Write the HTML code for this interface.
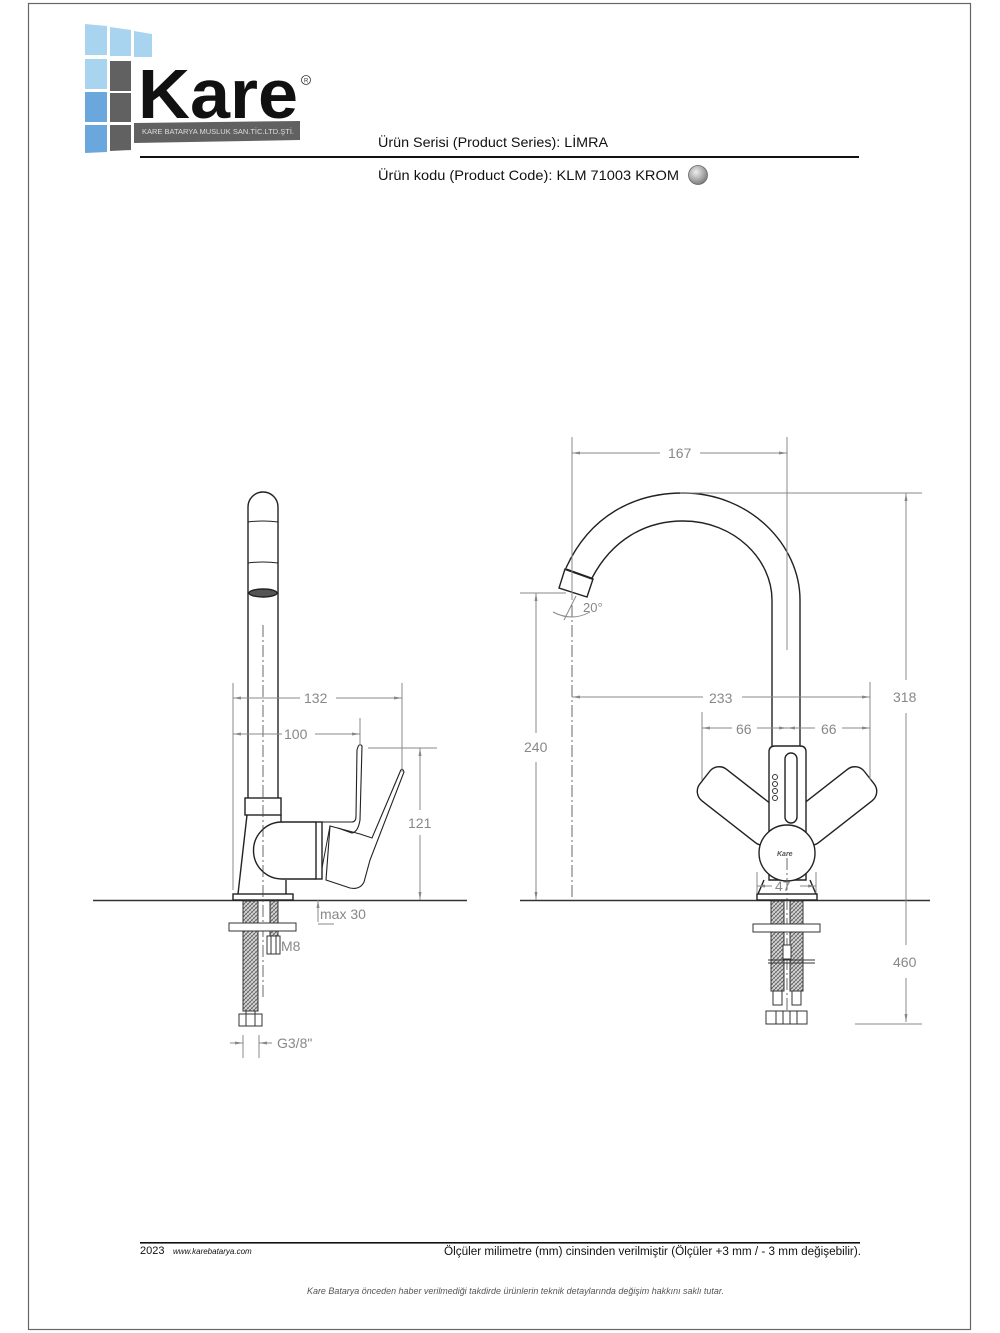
<!DOCTYPE html>
<html><head><meta charset="utf-8"><style>
body{margin:0;background:#fff;}
svg{display:block;font-family:"Liberation Sans",Arial,sans-serif;}
</style></head><body>
<svg width="1000" height="1333" viewBox="0 0 1000 1333" xmlns="http://www.w3.org/2000/svg">
<defs>
<pattern id="hatch" width="4" height="4" patternUnits="userSpaceOnUse">
<rect width="4" height="4" fill="#ddd"/><path d="M0 4L4 0M-1 1L1 -1M3 5L5 3" stroke="#555" stroke-width="0.8"/><path d="M0 0L4 4" stroke="#777" stroke-width="0.6"/>
</pattern>
<radialGradient id="chrome" cx="0.4" cy="0.35" r="0.7"><stop offset="0" stop-color="#eee"/><stop offset="1" stop-color="#777"/></radialGradient>
<marker id="ar" markerWidth="8" markerHeight="6" refX="8" refY="3" orient="auto-start-reverse" markerUnits="userSpaceOnUse"><path d="M0 1.5L8 3L0 4.5" fill="#888"/></marker>
</defs>
<rect x="28.5" y="3.5" width="942" height="1326" fill="none" stroke="#666" stroke-width="1.2"/>

<!-- logo -->
<g>
<polygon points="85,24 107,26 107,55 85,55" fill="#a9d4ef"/>
<polygon points="110,27 131,30 131,56 110,56" fill="#a9d4ef"/>
<polygon points="134,31 152,34 152,57 134,57" fill="#a9d4ef"/>
<rect x="85" y="59" width="22" height="30" fill="#a9d4ef"/>
<rect x="110" y="61" width="21" height="30" fill="#616161"/>
<rect x="85" y="92" width="22" height="30" fill="#6aa7dc"/>
<rect x="110" y="93" width="21" height="29" fill="#616161"/>
<polygon points="85,125 107,125 107,152 85,153" fill="#6aa7dc"/>
<polygon points="110,125 131,125 131,150 110,151" fill="#616161"/>
<polygon points="134,123 300,121 300,140 134,143" fill="#616161"/>
<text x="142" y="134" font-size="7" fill="#ddd" textLength="152" lengthAdjust="spacingAndGlyphs">KARE BATARYA MUSLUK SAN.TİC.LTD.ŞTİ.</text>
<text x="138" y="118" font-size="70" font-weight="bold" fill="#111" textLength="160" lengthAdjust="spacingAndGlyphs">Kare</text>
<circle cx="306" cy="80" r="4.5" fill="none" stroke="#333" stroke-width="0.8"/>
<text x="304" y="82.5" font-size="6" fill="#333">R</text>
</g>
<text x="378" y="147" font-size="14" fill="#111" textLength="230" lengthAdjust="spacingAndGlyphs">Ürün Serisi (Product Series): LİMRA</text>
<rect x="140" y="156" width="719" height="2" fill="#111"/>
<text x="378" y="180" font-size="14" fill="#111" textLength="301" lengthAdjust="spacingAndGlyphs">Ürün kodu (Product Code): KLM 71003  KROM</text>
<circle cx="698" cy="175" r="9.5" fill="url(#chrome)" stroke="#666" stroke-width="0.8"/>

<!-- LEFT DRAWING -->
<g fill="none" stroke="#222" stroke-width="1.4">
<line x1="93" y1="900.5" x2="467" y2="900.5" stroke="#333" stroke-width="1.6"/>
<path d="M248 798 V507 A15 15 0 0 1 278 507 V798"/>
<path d="M248 522 Q263 520 278 522" stroke-width="1"/>
<path d="M248 563 Q263 561 278 563" stroke-width="1"/>
<ellipse cx="263" cy="593" rx="14" ry="4" fill="#555"/>
<rect x="245" y="798" width="36" height="17"/>
<path d="M247 815 L238 894"/>
<path d="M281 815 L281 822"/>
<path d="M286 880 L286 894"/>
<path d="M316 822 H282 A28 28 0 0 0 282 879 H316"/>
<rect x="316" y="822" width="6" height="57"/>
<path d="M322 822 L352 822 Q356 822 356 816 L357 750 Q359 742 362 746 L360 820 Q358 832 352 833 L338 828" stroke-width="1.1"/>
<path d="M330 826 L360 834 L372 838 L400 772 Q402 766 404 772 L370 860 L364 882 Q360 890 350 888 L326 880 Z" stroke-width="1.1"/>
<path d="M330 826 L322 868" stroke-width="1"/>
<rect x="233" y="894" width="60" height="6"/>
</g>
<line x1="263" y1="625" x2="263" y2="1000" stroke="#444" stroke-width="0.8" stroke-dasharray="12,3,2,3"/>
<!-- under sink left -->
<rect x="243" y="901" width="15" height="110" fill="url(#hatch)" stroke="#333" stroke-width="1"/>
<rect x="270" y="901" width="8" height="36" fill="url(#hatch)" stroke="#333" stroke-width="1"/>
<rect x="229" y="923" width="67" height="8" fill="#fff" stroke="#333" stroke-width="1"/>
<rect x="267" y="936" width="13" height="18" fill="#fff" stroke="#333" stroke-width="1"/>
<line x1="271" y1="936" x2="271" y2="954" stroke="#333"/><line x1="276" y1="936" x2="276" y2="954" stroke="#333"/>
<rect x="246" y="1011" width="9" height="7" fill="#fff" stroke="#333"/>
<rect x="239" y="1014" width="23" height="12" fill="#fff" stroke="#333"/>
<line x1="246" y1="1014" x2="246" y2="1026" stroke="#333"/><line x1="255" y1="1014" x2="255" y2="1026" stroke="#333"/>
<!-- left dims -->
<g stroke="#888" stroke-width="1" fill="none">
<line x1="233" y1="683" x2="233" y2="890"/>
<line x1="402" y1="683" x2="402" y2="772"/>
<line x1="360" y1="718" x2="360" y2="745"/>
<line x1="233" y1="698" x2="300" y2="698" marker-start="url(#ar)"/>
<line x1="336" y1="698" x2="402" y2="698" marker-end="url(#ar)"/>
<line x1="233" y1="734" x2="282" y2="734" marker-start="url(#ar)"/>
<line x1="315" y1="734" x2="360" y2="734" marker-end="url(#ar)"/>
<line x1="368" y1="748" x2="437" y2="748"/>
<line x1="420" y1="748" x2="420" y2="810" marker-start="url(#ar)"/>
<line x1="420" y1="835" x2="420" y2="900" marker-end="url(#ar)"/>
<line x1="318" y1="900" x2="318" y2="922" marker-start="url(#ar)"/>
<line x1="318" y1="924" x2="334" y2="924"/>
<line x1="243" y1="1035" x2="243" y2="1058"/>
<line x1="259" y1="1035" x2="259" y2="1058"/>
<line x1="230" y1="1043" x2="243" y2="1043" marker-end="url(#ar)"/>
<line x1="259" y1="1043" x2="272" y2="1043" marker-start="url(#ar)"/>
</g>
<g fill="#888" font-size="14">
<text x="304" y="703">132</text>
<text x="284" y="739">100</text>
<text x="408" y="828">121</text>
<text x="320" y="919">max 30</text>
<text x="281" y="951">M8</text>
<text x="277" y="1048">G3/8"</text>
</g>

<!-- RIGHT DRAWING -->
<g fill="none" stroke="#222" stroke-width="1.4">
<line x1="520" y1="900.5" x2="930" y2="900.5" stroke="#333" stroke-width="1.6"/>
<path d="M566 568 C590 515, 635 493, 683 493 C750 493, 800 545, 800 600 V748"/>
<path d="M592 578 C612 540, 645 521, 683 521 C735 521, 772 560, 772 600 V748"/>
<path d="M565 569 L593 579 L587 597 L559 588 Z" fill="#fff"/>
<line x1="565" y1="569" x2="593" y2="579" stroke-width="2"/>
<!-- handles -->
<rect x="695" y="786" width="92" height="40" rx="12" transform="rotate(38 741 806)" fill="#fff"/>
<rect x="787" y="786" width="92" height="40" rx="12" transform="rotate(-38 833 806)" fill="#fff"/>
<path d="M769 880 V752 Q769 746 775 746 H800 Q806 746 806 752 V880 Z" fill="#fff"/>
<rect x="785" y="753" width="12" height="70" rx="6"/>
<circle cx="787" cy="853" r="28" fill="#fff"/>
<rect x="757" y="894" width="60" height="6"/>
<line x1="764" y1="880" x2="758" y2="894"/><line x1="810" y1="880" x2="816" y2="894"/>
</g>
<g fill="none" stroke="#333" stroke-width="1">
<circle cx="775" cy="777" r="2.5"/><circle cx="775" cy="784" r="2.5"/><circle cx="775" cy="791" r="2.5"/><circle cx="775" cy="798" r="2.5"/>
</g>
<text x="777" y="856" font-size="7" font-style="italic" font-weight="bold" fill="#555">Kare</text>
<line x1="572" y1="605" x2="572" y2="900" stroke="#444" stroke-width="0.8" stroke-dasharray="12,3,2,3"/>
<line x1="787" y1="858" x2="787" y2="1015" stroke="#444" stroke-width="0.8" stroke-dasharray="12,3,2,3"/>
<path d="M553 612 Q572 622 590 612" fill="none" stroke="#888"/>
<line x1="564" y1="620" x2="576" y2="596" stroke="#888"/>
<text x="583" y="612" font-size="13" fill="#888">20°</text>
<!-- under sink right -->
<rect x="771" y="901" width="13" height="90" fill="url(#hatch)" stroke="#333"/>
<rect x="790" y="901" width="13" height="90" fill="url(#hatch)" stroke="#333"/>
<rect x="753" y="924" width="67" height="8" fill="#fff" stroke="#333"/>
<rect x="783" y="945" width="8" height="14" fill="#fff" stroke="#333"/>
<line x1="768" y1="960" x2="815" y2="960" stroke="#333"/><line x1="768" y1="963" x2="815" y2="963" stroke="#333"/>
<rect x="773" y="991" width="9" height="14" fill="#fff" stroke="#333"/>
<rect x="792" y="991" width="9" height="14" fill="#fff" stroke="#333"/>
<rect x="766" y="1011" width="41" height="13" fill="#fff" stroke="#333"/>
<line x1="776" y1="1011" x2="776" y2="1024" stroke="#333"/><line x1="783" y1="1011" x2="783" y2="1024" stroke="#333"/><line x1="790" y1="1011" x2="790" y2="1024" stroke="#333"/><line x1="797" y1="1011" x2="797" y2="1024" stroke="#333"/>
<!-- right dims -->
<g stroke="#888" stroke-width="1" fill="none">
<line x1="572" y1="437" x2="572" y2="600"/>
<line x1="787" y1="437" x2="787" y2="650"/>
<line x1="572" y1="453" x2="660" y2="453" marker-start="url(#ar)"/>
<line x1="700" y1="453" x2="787" y2="453" marker-end="url(#ar)"/>
<line x1="680" y1="493" x2="922" y2="493"/>
<line x1="906" y1="493" x2="906" y2="680" marker-start="url(#ar)"/>
<line x1="906" y1="713" x2="906" y2="945"/>
<line x1="906" y1="978" x2="906" y2="1022" marker-end="url(#ar)"/>
<line x1="855" y1="1024" x2="922" y2="1024"/>
<line x1="520" y1="593" x2="566" y2="593"/>
<line x1="536" y1="593" x2="536" y2="733" marker-start="url(#ar)"/>
<line x1="536" y1="762" x2="536" y2="900" marker-end="url(#ar)"/>
<line x1="572" y1="697" x2="703" y2="697" marker-start="url(#ar)"/>
<line x1="742" y1="697" x2="870" y2="697" marker-end="url(#ar)"/>
<line x1="870" y1="682" x2="870" y2="780"/>
<line x1="702" y1="712" x2="702" y2="780"/>
<line x1="702" y1="728" x2="732" y2="728" marker-start="url(#ar)"/>
<line x1="757" y1="728" x2="787" y2="728" marker-end="url(#ar)"/>
<line x1="787" y1="728" x2="815" y2="728" marker-start="url(#ar)"/>
<line x1="842" y1="728" x2="870" y2="728" marker-end="url(#ar)"/>
<line x1="757" y1="872" x2="757" y2="893"/><line x1="816" y1="872" x2="816" y2="893"/>
<line x1="757" y1="886" x2="772" y2="886" marker-start="url(#ar)"/>
<line x1="800" y1="886" x2="816" y2="886" marker-end="url(#ar)"/>
</g>
<g fill="#888" font-size="14">
<text x="668" y="458">167</text>
<text x="893" y="702">318</text>
<text x="893" y="967">460</text>
<text x="524" y="752">240</text>
<text x="709" y="703">233</text>
<text x="736" y="734">66</text>
<text x="821" y="734">66</text>
<text x="775" y="891">47</text>
</g>

<!-- footer -->
<rect x="140" y="1242" width="720" height="1.6" fill="#111"/>
<text x="140" y="1254" font-size="11" fill="#111">2023</text>
<text x="173" y="1254" font-size="8" font-style="italic" fill="#111">www.karebatarya.com</text>
<text x="861" y="1255" font-size="11.5" fill="#111" text-anchor="end" textLength="417" lengthAdjust="spacingAndGlyphs">Ölçüler milimetre (mm) cinsinden verilmiştir (Ölçüler  +3 mm / - 3 mm değişebilir).</text>
<text x="307" y="1294" font-size="9" font-style="italic" fill="#555" textLength="417" lengthAdjust="spacingAndGlyphs">Kare Batarya önceden haber verilmediği takdirde ürünlerin teknik detaylarında değişim hakkını saklı tutar.</text>
</svg>
</body></html>
